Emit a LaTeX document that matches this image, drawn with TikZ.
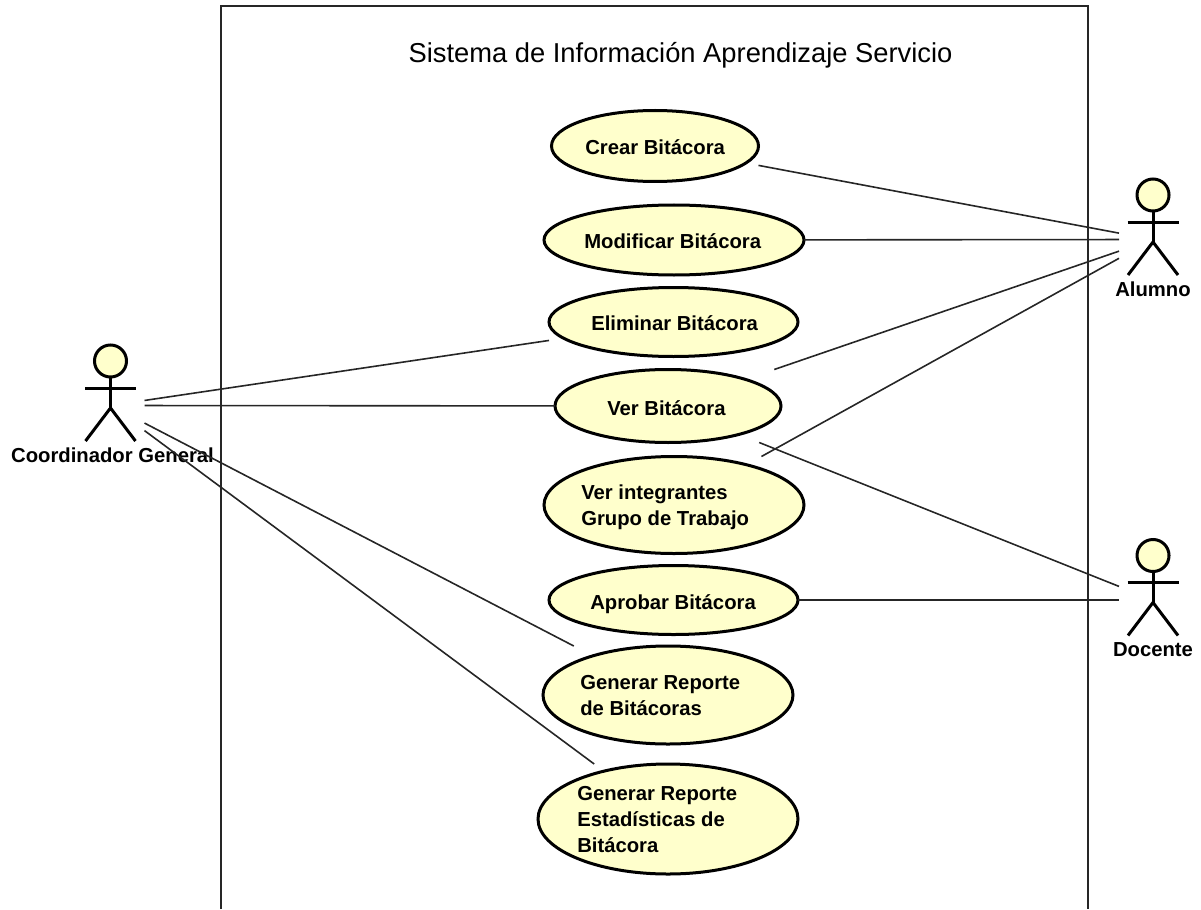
\documentclass[tikz,border=0pt]{standalone}
\usepackage{fontspec}
\setmainfont{Liberation Sans}
\usetikzlibrary{shapes.geometric}
\definecolor{ucfill}{HTML}{FFFFCC}
\tikzset{
  ucshape/.style={ellipse,draw=black,fill=ucfill,line width=2.25pt,inner sep=0pt,outer sep=0pt},
  bound/.style={rectangle,inner sep=0pt,outer sep=0pt},
  uctext/.style={font=\bfseries\fontsize{15.2}{19.5}\selectfont,align=left,inner sep=0pt,text=black},
  actortext/.style={font=\bfseries\fontsize{15.2}{18}\selectfont,inner sep=0pt,text=black},
  titletext/.style={font=\fontsize{20.5}{24}\selectfont,inner sep=0pt,text=black},
  actorline/.style={draw=black,line width=2.25pt},
  assoc/.style={draw=black!85,line width=1.2pt},
  frameline/.style={draw=black!85,line width=0.85pt}
}
% name, x, y, width, height, text x (west), text y, text
\newcommand{\usecase}[8]{%
  \node[bound,minimum width=#4*0.75pt,minimum height=#5*0.75pt] (#1) at (#2,#3) {};
  \node[ucshape,minimum width=#4*0.75pt,minimum height=#5*0.75pt] (#1E) at (#2,#3) {};
  \node[uctext,anchor=west] (#1T) at (#6,#7) {#8};
}
% name, x, y, label x, label
\newcommand{\actorfig}[5]{%
  \node[bound,minimum width=68*0.75pt,minimum height=120*0.75pt] (#1) at (#2,#3) {};
  \begin{scope}[shift={(#2,#3)}]
    \draw[actorline] (0,-28.5) -- (0,2.5);
    \draw[actorline] (-25.5,-17.5) -- (25.5,-17.5);
    \draw[actorline] (-25,35.5) -- (0,2.5) -- (25,35.5);
    \draw[actorline,fill=ucfill] (0,-44.5) circle[radius=12pt];
  \end{scope}
  \node[actortext] (#1L) at (#4,#3+50) {#5};
}
\begin{document}
\begin{tikzpicture}[x=0.75pt,y=-0.75pt]
\useasboundingbox (0,0) rectangle (1201,909);
\draw[frameline] (221,909) -- (221,6) -- (1088,6) -- (1088,909);
\node[titletext] (title) at (680.5,55) {Sistema de Información Aprendizaje Servicio};

\actorfig{coord}{110.5}{405.5}{112.5}{Coordinador General}
\actorfig{alumno}{1153}{239.5}{1153}{Alumno}
\actorfig{docente}{1153}{600}{1153}{Docente}

\usecase{crear}{655}{146}{207}{71}{585}{147}{Crear Bitácora}
\usecase{modificar}{674}{240}{260}{70}{584}{241}{Modificar Bitácora}
\usecase{eliminar}{673.5}{322}{249}{69}{591}{323}{Eliminar Bitácora}
\usecase{ver}{668}{406}{226}{73}{607}{408}{Ver Bitácora}
\usecase{integrantes}{674}{505}{260}{97}{581}{507.5}{Ver integrantes\\Grupo de Trabajo}
\usecase{aprobar}{673.5}{600}{249}{69}{590}{604.5}{Aprobar Bitácora}
\usecase{genrep}{668}{695}{250}{98}{580}{695.5}{Generar Reporte\\de Bitácoras}
\usecase{genest}{668}{819}{260}{110}{577}{820}{Generar Reporte\\Estadísticas de\\Bitácora}

\draw[assoc] (crear) -- (alumno);
\draw[assoc] (modificar) -- (alumno);
\draw[assoc] (ver) -- (alumno);
\draw[assoc] (integrantes) -- (alumno);
\draw[assoc] (ver) -- (docente);
\draw[assoc] (aprobar) -- (docente);
\draw[assoc] (eliminar) -- (coord);
\draw[assoc] (ver) -- (coord);
\draw[assoc] (genrep) -- (coord);
\draw[assoc] (genest) -- (coord);
\end{tikzpicture}
\end{document}
